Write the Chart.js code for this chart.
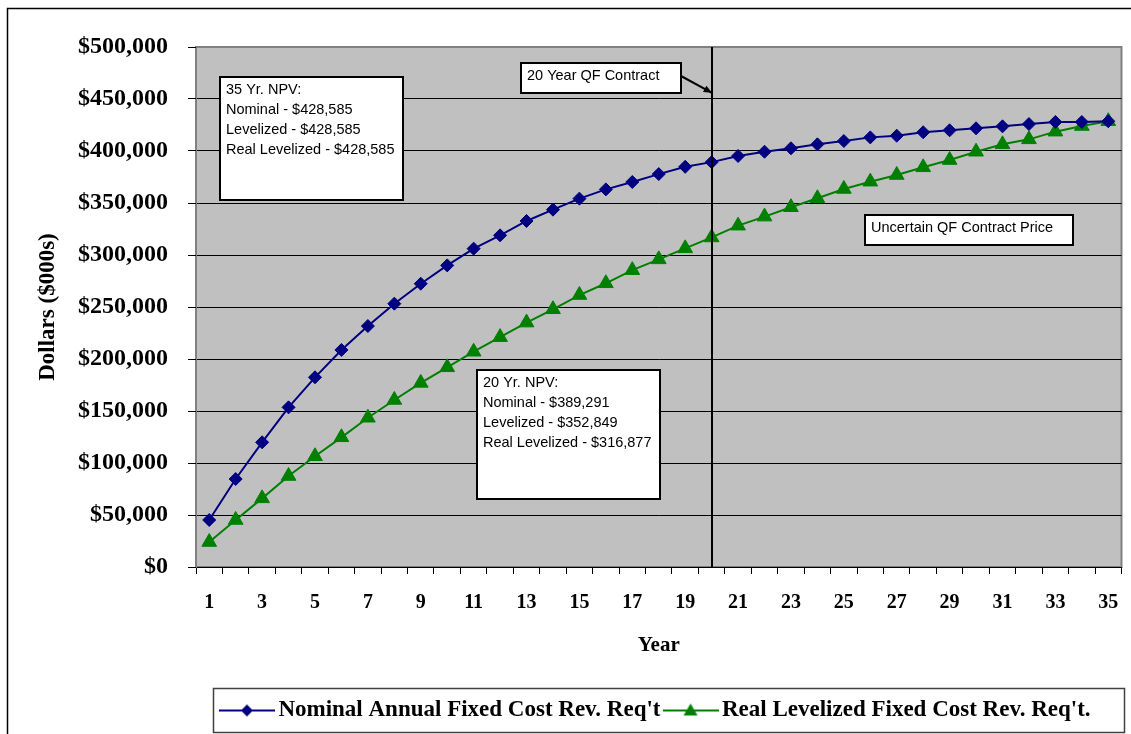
<!DOCTYPE html>
<html>
<head>
<meta charset="utf-8">
<script src="https://cdn.jsdelivr.net/npm/chart.js@4.4.1/dist/chart.umd.min.js"></script>
<style>
  html, body { margin: 0; padding: 0; background: #fff; }
</style>
</head>
<body>
<canvas id="myChart" width="1131" height="734"></canvas>
<script>
// Data
const years = [1, 2, 3, 4, 5, 6, 7, 8, 9, 10, 11, 12, 13, 14, 15, 16, 17, 18,
  19, 20, 21, 22, 23, 24, 25, 26, 27, 28, 29, 30, 31, 32, 33, 34, 35];

const nominalRevReq = [45200, 84600, 119900, 153500, 182400, 208700, 231700, 253200,
  272400, 290000, 306100, 318900, 332700, 343600, 354200, 363100, 370200, 377800,
  384800, 389291, 395200, 399300, 402600, 406400, 409600, 413100, 414700, 418000,
  419900, 421800, 423700, 425900, 427900, 427900, 428585];

const realLevelizedRevReq = [24000, 45200, 66000, 87500, 106500, 124700, 143500, 160600,
  177000, 192000, 207000, 221000, 235000, 247800, 261500, 272800, 285400, 295800,
  306400, 316877, 328200, 336900, 345900, 354500, 363500, 370500, 376900, 384300,
  391300, 399300, 406400, 411200, 418600, 424000, 428585];

const seriesNames = ["Nominal Annual Fixed Cost Rev. Req't", "Real Levelized Fixed Cost Rev. Req't."];

const yMin = 0, yMax = 500000, yStep = 50000;
const contractYear = 20;

// text boxes: anchored at (category index, dollar value) for their top-left corner
const notes = [
  { lines: ['35 Yr. NPV:', 'Nominal - $428,585', 'Levelized - $428,585', 'Real Levelized - $428,585'],
    at: [0.41, 471400], w: 183, h: 123 },
  { lines: ['20 Yr. NPV:', 'Nominal - $389,291', 'Levelized - $352,849', 'Real Levelized - $316,877'],
    at: [10.12, 189400], w: 183, h: 129 },
  { lines: ['20 Year QF Contract'], at: [11.8, 484300], w: 160, h: 30 },
  { lines: ['Uncertain QF Contract Price'], at: [24.81, 338500], w: 208, h: 30 }
];

const NAVY = '#000080';
const GREEN = '#008000';
const serif = "'Liberation Serif', 'Times New Roman', serif";
const sans = "'Liberation Sans', Arial, sans-serif";

// legend swatch: a short line with the marker in the middle
const SWATCH_W = 56, LEGEND_BOX_W = 40;
function makeSwatch(color, shape) {
  const c = document.createElement('canvas');
  c.width = SWATCH_W; c.height = 18;
  const g = c.getContext('2d');
  g.strokeStyle = color; g.fillStyle = color; g.lineWidth = 2;
  g.beginPath(); g.moveTo(0, 9); g.lineTo(SWATCH_W, 9); g.stroke();
  g.beginPath();
  const cx = SWATCH_W / 2;
  if (shape === 'diamond') {
    g.moveTo(cx, 3); g.lineTo(cx + 6, 9); g.lineTo(cx, 15); g.lineTo(cx - 6, 9);
  } else {
    g.moveTo(cx, 2); g.lineTo(cx + 7, 14); g.lineTo(cx - 7, 14);
  }
  g.closePath(); g.fill();
  return c;
}
const swatches = [makeSwatch(NAVY, 'diamond'), makeSwatch(GREEN, 'triangle')];

const chartDecor = {
  id: 'chartDecor',
  beforeDraw(chart) {
    const { ctx, chartArea: a } = chart;
    ctx.save();
    ctx.fillStyle = '#fff';
    ctx.fillRect(0, 0, chart.width, chart.height);
    ctx.strokeStyle = '#000';
    ctx.lineWidth = 1.5;
    ctx.strokeRect(7.5, 8.5, chart.width + 20, chart.height + 20);
    ctx.fillStyle = '#c0c0c0';
    ctx.fillRect(a.left, a.top, a.right - a.left, a.bottom - a.top);
    ctx.strokeStyle = '#808080';
    ctx.lineWidth = 2;
    ctx.strokeRect(a.left, a.top, a.right - a.left, a.bottom - a.top);
    ctx.restore();
  },
  afterDatasetsDraw(chart) {
    const { ctx, chartArea: a, scales: { x, y } } = chart;
    ctx.save();
    // 20 year contract line
    const lx = Math.round(x.getPixelForValue(years.indexOf(contractYear)));
    ctx.strokeStyle = '#000';
    ctx.lineWidth = 2;
    ctx.beginPath(); ctx.moveTo(lx, a.top); ctx.lineTo(lx, a.bottom); ctx.stroke();

    // text boxes
    ctx.font = '14.5px ' + sans;
    ctx.textAlign = 'left';
    ctx.textBaseline = 'middle';
    const boxes = notes.map(n => {
      const bx = Math.round(x.getPixelForValue(n.at[0]));
      const by = Math.round(y.getPixelForValue(n.at[1]));
      ctx.fillStyle = '#fff';
      ctx.fillRect(bx, by, n.w, n.h);
      ctx.strokeStyle = '#000';
      ctx.lineWidth = 2;
      ctx.strokeRect(bx, by, n.w, n.h);
      ctx.fillStyle = '#000';
      n.lines.forEach((t, i) => ctx.fillText(t, bx + 6, by + 12.5 + i * 20));
      return { x: bx, y: by, w: n.w, h: n.h };
    });

    // arrow from the contract label to the line
    const b = boxes[2];
    const sx = b.x + b.w, sy = b.y + 13;
    const ex = lx, ey = y.getPixelForValue(456000);
    ctx.strokeStyle = '#000';
    ctx.lineWidth = 2;
    ctx.beginPath(); ctx.moveTo(sx, sy); ctx.lineTo(ex, ey); ctx.stroke();
    const ang = Math.atan2(ey - sy, ex - sx);
    ctx.beginPath();
    ctx.moveTo(ex, ey);
    ctx.lineTo(ex - 9 * Math.cos(ang - 0.4), ey - 9 * Math.sin(ang - 0.4));
    ctx.lineTo(ex - 9 * Math.cos(ang + 0.4), ey - 9 * Math.sin(ang + 0.4));
    ctx.closePath();
    ctx.fillStyle = '#000';
    ctx.fill();
    ctx.restore();
  },
  afterDraw(chart) {
    // frame round the legend
    const lg = chart.legend;
    const hb = lg.legendHitBoxes;
    if (!hb || !hb.length) return;
    const { ctx } = chart;
    const left = hb[0].left + LEGEND_BOX_W / 2 - SWATCH_W / 2 - 6;
    const last = hb[hb.length - 1];
    const right = last.left + last.width + 33;
    ctx.save();
    ctx.strokeStyle = '#404040';
    ctx.lineWidth = 1.5;
    ctx.strokeRect(Math.round(left) + 0.5, Math.round(lg.top) - 0.5, Math.round(right - left), 44);
    ctx.restore();
  }
};

const ctx = document.getElementById('myChart').getContext('2d');
const chart = new Chart(ctx, {
  type: 'line',
  data: {
    labels: years,
    datasets: [{
      label: seriesNames[0],
      data: nominalRevReq,
      borderColor: NAVY,
      backgroundColor: NAVY,
      borderWidth: 2,
      pointStyle: 'rectRot',
      pointRadius: 6.5,
      pointBorderWidth: 1,
      tension: 0,
      fill: false
    }, {
      label: seriesNames[1],
      data: realLevelizedRevReq,
      borderColor: GREEN,
      backgroundColor: GREEN,
      borderWidth: 2,
      pointStyle: 'triangle',
      pointRadius: 8.5,
      pointBorderWidth: 1,
      tension: 0,
      fill: false
    }]
  },
  options: {
    responsive: false,
    animation: false,
    layout: { padding: { left: 10, right: 8, top: 47, bottom: 2 } },
    plugins: {
      tooltip: { enabled: false },
      legend: {
        position: 'bottom',
        fullSize: false,
        labels: {
          usePointStyle: true,
          pointStyleWidth: LEGEND_BOX_W,
          padding: 10,
          color: '#000',
          font: { family: serif, size: 23, weight: 'bold' },
          generateLabels(c) {
            const items = Chart.defaults.plugins.legend.labels.generateLabels(c);
            items.forEach((it, i) => { it.pointStyle = swatches[i]; });
            return items;
          }
        }
      }
    },
    scales: {
      x: {
        offset: true,
        afterFit(scale) { scale.height = 122; },
        grid: {
          display: true,
          offset: true,
          drawOnChartArea: false,
          drawTicks: true,
          tickLength: 7,
          color: '#000'
        },
        border: { color: '#000', width: 1 },
        ticks: {
          autoSkip: false,
          maxRotation: 0,
          padding: 12,
          color: '#000',
          font: { family: serif, size: 20, weight: 'bold', lineHeight: 1.65 },
          callback(value, index) { return index % 2 === 0 ? this.getLabelForValue(value) : ''; }
        },
        title: {
          display: true,
          text: 'Year',
          color: '#000',
          font: { family: serif, size: 21, weight: 'bold' },
          padding: { top: 0, bottom: 31 }
        }
      },
      y: {
        min: yMin,
        max: yMax,
        afterFit(scale) { scale.width = 186; },
        grid: {
          color: c => (c.tick && c.tick.value === yMax ? '#808080' : '#000'),
          tickColor: '#000',
          tickLength: 8
        },
        border: { color: '#808080', width: 1 },
        ticks: {
          stepSize: yStep,
          padding: 20,
          color: '#000',
          font: { family: serif, size: 24, weight: 'bold' },
          callback: v => '$' + Number(v).toLocaleString('en-US')
        },
        title: {
          display: true,
          text: 'Dollars ($000s)',
          color: '#000',
          font: { family: serif, size: 23, weight: 'bold' },
          padding: { top: 24, bottom: 0 }
        }
      }
    }
  },
  plugins: [chartDecor]
});
</script>
</body>
</html>
